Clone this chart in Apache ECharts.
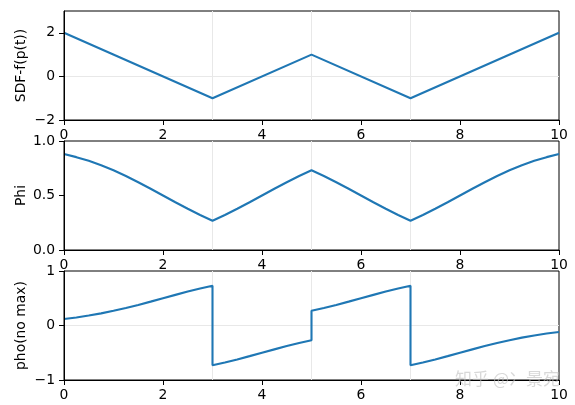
<!DOCTYPE html>
<html>
<head>
<meta charset="utf-8">
<script src="https://cdn.jsdelivr.net/npm/echarts@6/dist/echarts.min.js"></script>
<style>html,body{margin:0;padding:0;background:#fff;}#c{width:575px;height:405px;}</style>
</head>
<body>
<div id="c"></div>
<script>
// ---- data ----
const xTicks = [0, 2, 4, 6, 8, 10];
const refX = [3, 5, 7];           // faint vertical reference lines
const refY = [0];                 // faint horizontal reference line

const tSdf = [0, 3, 5, 7, 10];
const sdfValues = [2, -1, 1, -1, 2];

const tPhi = [0,0.25,0.5,0.75,1,1.25,1.5,1.75,2,2.25,2.5,2.75,3,
  3.25,3.5,3.75,4,4.25,4.5,4.75,5,
  5.25,5.5,5.75,6,6.25,6.5,6.75,7,
  7.25,7.5,7.75,8,8.25,8.5,8.75,9,9.25,9.5,9.75,10];
const phiValues = [0.881,0.852,0.818,0.777,0.731,0.679,0.622,0.562,0.500,0.438,0.378,0.321,0.269,
  0.321,0.378,0.438,0.500,0.562,0.622,0.679,0.731,
  0.679,0.622,0.562,0.500,0.438,0.378,0.321,0.269,
  0.321,0.378,0.438,0.500,0.562,0.622,0.679,0.731,0.777,0.818,0.852,0.881];

const tPho = [0,0.25,0.5,0.75,1,1.25,1.5,1.75,2,2.25,2.5,2.75,3,
  3,3.25,3.5,3.75,4,4.25,4.5,4.75,5,
  5,5.25,5.5,5.75,6,6.25,6.5,6.75,7,
  7,7.25,7.5,7.75,8,8.25,8.5,8.75,9,9.25,9.5,9.75,10];
const phoValues = [0.119,0.148,0.182,0.223,0.269,0.321,0.378,0.438,0.500,0.562,0.622,0.679,0.731,
  -0.731,-0.679,-0.622,-0.562,-0.500,-0.438,-0.378,-0.321,-0.269,
  0.269,0.321,0.378,0.438,0.500,0.562,0.622,0.679,0.731,
  -0.731,-0.679,-0.622,-0.562,-0.500,-0.438,-0.378,-0.321,-0.269,-0.223,-0.182,-0.148,-0.119];

const yNames = ['SDF-f(p(t))', 'Phi', 'pho(no max)'];
const yTicks = [[-2, 0, 2], [0, 0.5, 1], [-1, 0, 1]];
const yRanges = [[-2, 3], [0, 1], [-1, 1]];
const yDecimals = [0, 1, 0];
const watermark = '知乎 @冫景宛';

// ---- chart ----
const FONT = 'DejaVu Sans';
const FS = 13.9;
const fmt = (v, d) => { const s = Math.abs(v).toFixed(d); return v < 0 ? '\u2212' + s : s; };
const pairs = (xs, ys) => xs.map((x, i) => [x, ys[i]]);
const tops = [11, 141, 271];

const grids = tops.map(t => ({ left: 64, width: 495, top: t, height: 109, show: true, borderColor: '#000', borderWidth: 1, backgroundColor: 'transparent' }));

const xAxes = tops.map((t, i) => ({
  type: 'value', gridIndex: i, min: 0, max: 10, interval: 2, z: 5,
  axisLine: { show: true, onZero: false, lineStyle: { color: '#000', width: 1 } },
  axisTick: { show: true, length: 5, lineStyle: { color: '#000' }, customValues: xTicks },
  axisLabel: { color: '#000', fontFamily: FONT, fontSize: FS, margin: 8, customValues: xTicks },
  splitLine: { show: false }
}));

const yAxes = tops.map((t, i) => ({
  type: 'value', gridIndex: i, min: yRanges[i][0], max: yRanges[i][1], z: 5,
  name: yNames[i], nameLocation: 'middle', nameGap: 36, nameMoveOverlap: false,
  nameTextStyle: { color: '#000', fontFamily: FONT, fontSize: FS },
  axisLine: { show: true, onZero: false, lineStyle: { color: '#000', width: 1 } },
  axisTick: { show: true, length: 5, lineStyle: { color: '#000' }, customValues: yTicks[i] },
  axisLabel: { color: '#000', fontFamily: FONT, fontSize: FS, margin: 9, customValues: yTicks[i],
    formatter: v => fmt(v, yDecimals[i]) },
  splitLine: { show: false }
}));

// reference lines as their own series, drawn below the curves
const refSeries = (i, withY) => ({
  type: 'line', xAxisIndex: i, yAxisIndex: i, data: [], z: 1, silent: true, animation: false,
  markLine: {
    silent: true, symbol: 'none', animation: false, z: 1,
    label: { show: false },
    lineStyle: { color: '#e8e8e8', width: 1, type: 'solid' },
    data: refX.map(x => ({ xAxis: x })).concat(withY ? refY.map(y => ({ yAxis: y })) : [])
  }
});

const lineStyle = { color: '#1f77b4', width: 2.1 };
const mk = (i, data) => ({
  type: 'line', xAxisIndex: i, yAxisIndex: i, data, showSymbol: false,
  lineStyle, itemStyle: { color: '#1f77b4' }, animation: false, z: 3
});

const chart = echarts.init(document.getElementById('c'), null, { renderer: 'canvas' });
chart.setOption({
  backgroundColor: '#fff',
  animation: false,
  grid: grids,
  xAxis: xAxes,
  yAxis: yAxes,
  series: [
    refSeries(0, true), refSeries(1, false), refSeries(2, true),
    mk(0, pairs(tSdf, sdfValues)),
    mk(1, pairs(tPhi, phiValues)),
    mk(2, pairs(tPho, phoValues))
  ],
  graphic: [{
    type: 'text', right: 15, top: 370, z: 10,
    style: { text: watermark, fill: 'rgba(190,190,190,0.6)', fontSize: 17, fontFamily: 'Noto Sans CJK SC' }
  }]
});
</script>
</body>
</html>
